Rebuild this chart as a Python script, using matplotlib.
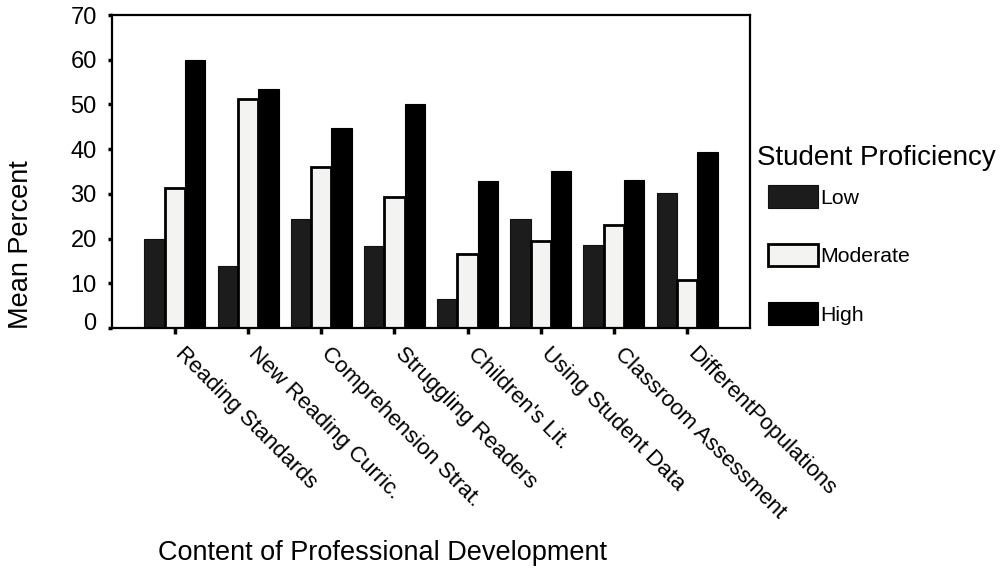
import numpy as np
import matplotlib
matplotlib.use("Agg")
import matplotlib.pyplot as plt
from matplotlib.transforms import ScaledTranslation

plt.rcParams['font.family'] = ['Liberation Sans', 'DejaVu Sans']

# values (mean percent)
categories = ["Reading Standards", "New Reading Curric.", "Comprehension Strat.",
              "Struggling Readers", "Children's Lit.", "Using Student Data",
              "Classroom Assessment", "DifferentPopulations"]
low = [20.0, 13.9, 24.4, 18.3, 6.5, 24.4, 18.5, 30.2]
moderate = [31.2, 51.2, 35.9, 29.2, 16.5, 19.5, 23.1, 10.8]
high = [60.0, 53.5, 44.8, 50.0, 32.8, 35.1, 33.0, 39.3]
yticks = [0, 10, 20, 30, 40, 50, 60, 70]

W, H = 1002, 580
fig = plt.figure(figsize=(W / 100, H / 100), dpi=100)
ax = fig.add_axes([112 / W, 1 - 328 / H, (750 - 112) / W, (328 - 15) / H])

x = np.arange(len(categories))
bw = 0.278
ax.bar(x - bw, low, bw, color='#1c1c1c', edgecolor='#111111', linewidth=0.8, label='Low')
ax.bar(x, moderate, bw, color='#f3f3f1', edgecolor='black', linewidth=2.0, label='Moderate')
ax.bar(x + bw, high, bw, color='black', edgecolor='black', linewidth=0.8, label='High')

ax.set_xlim(-0.86, 7.86)
ax.set_ylim(0, 70)
ax.set_yticks(yticks)
ax.set_yticklabels([str(v) for v in yticks], fontsize=17)
ax.set_xticks(x)
ax.set_xticklabels(categories, rotation=-45, ha='left', va='top',
                   rotation_mode='anchor', fontsize=16)
ax.tick_params(axis='x', direction='out', length=4, width=2.5, pad=7)
ax.tick_params(axis='y', direction='out', length=3, width=2.5, pad=8)
for s in ax.spines.values():
    s.set_linewidth(1.6)

# nudge the slanted labels to the right, as in the original
shift = ScaledTranslation(11 / 100, 0, fig.dpi_scale_trans)
for lab in ax.get_xticklabels():
    lab.set_transform(lab.get_transform() + shift)

# the "0" label sits a little above its tick in the original
lab0 = ax.yaxis.get_major_ticks()[0].label1
lab0.set_transform(lab0.get_transform() + ScaledTranslation(0, 7 / 100, fig.dpi_scale_trans))

fig.text(21 / W, 1 - 245 / H, 'Mean Percent', rotation=90, ha='center', va='center', fontsize=19.5)
fig.text(383 / W, 1 - 560 / H, 'Content of Professional Development', ha='center',
         va='baseline', fontsize=19.5)
fig.text(757 / W, 1 - 158 / H, 'Student Proficiency', ha='left', va='center', fontsize=20)

ax.legend(loc='upper left', bbox_to_anchor=(768 / W, 1 - 185 / H), bbox_transform=fig.transFigure,
          frameon=False, borderpad=0, borderaxespad=0, handlelength=2.35, handleheight=1.27,
          handletextpad=0.1, labelspacing=1.69, fontsize=15.3)

fig.savefig('out.png', dpi=100)
